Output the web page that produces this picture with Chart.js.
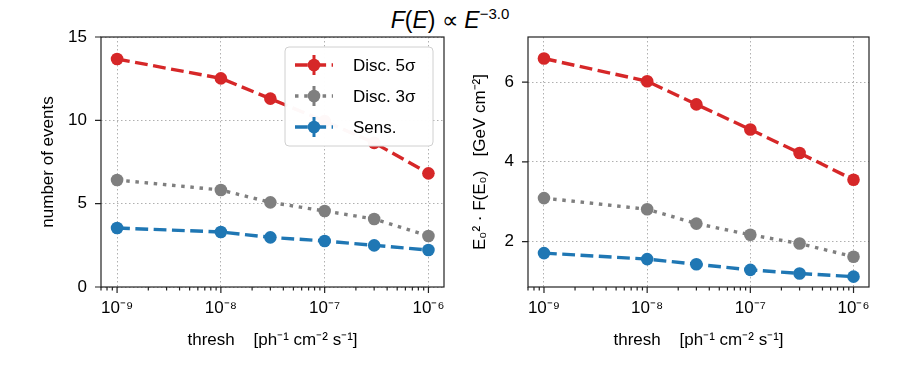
<!DOCTYPE html>
<html>
<head>
<meta charset="utf-8">
<script src="https://cdn.jsdelivr.net/npm/chart.js@4.4.1/dist/chart.umd.min.js"></script>
<style>
body { margin: 0; background: #fff; }
#fig { position: relative; width: 900px; height: 375px; font-family: "Liberation Sans", sans-serif; color: #000; }
#title { position: absolute; left: 0; top: 0px; width: 900px; text-align: center; font-size: 23px; line-height: 28px; }
#title sup { font-size: 15px; }
.panel { position: absolute; top: 0; height: 375px; }
</style>
</head>
<body>
<div id="fig">
    <div id="title"><i>F</i>(<i>E</i>) ∝ <i>E</i><sup>−3.0</sup></div>
    <div class="panel" style="left:0;width:460px"><canvas id="chartEvents" width="460" height="375"></canvas></div>
    <div class="panel" style="left:460px;width:440px"><canvas id="chartFlux" width="440" height="375"></canvas></div>
</div>
<script>
// valores
const thresholds = [1e-9, 1e-8, 3e-8, 1e-7, 3e-7, 1e-6];
const seriesLabels = ['Disc. 5σ', 'Disc. 3σ', 'Sens.'];

const eventsDisc5 = [13.68, 12.52, 11.30, 9.95, 8.65, 6.82];
const eventsDisc3 = [6.42, 5.82, 5.08, 4.56, 4.08, 3.06];
const eventsSens = [3.54, 3.30, 2.98, 2.76, 2.50, 2.22];

const fluxDisc5 = [6.59, 6.02, 5.44, 4.81, 4.22, 3.55];
const fluxDisc3 = [3.09, 2.81, 2.45, 2.17, 1.95, 1.62];
const fluxSens = [1.71, 1.56, 1.43, 1.29, 1.20, 1.12];

const xMajorTicks = [1e-9, 1e-8, 1e-7, 1e-6];
const xTickLabels = ['10⁻⁹', '10⁻⁸', '10⁻⁷', '10⁻⁶'];
const eventsTicks = [0, 5, 10, 15];
const fluxTicks = [2, 4, 6];

const FONT = '"Liberation Sans", sans-serif';
const styles = [
    { color: '#d62728', dash: [12.8, 5.5] },
    { color: '#7f7f7f', dash: [3.5, 5.7] },
    { color: '#1f77b4', dash: [12.8, 5.5] },
];

function isMajor(v) {
    const l = Math.log10(v);
    return Math.abs(l - Math.round(l)) < 1e-6;
}

function makeSets(lists) {
    return lists.map(function (vals, i) {
        return {
            label: seriesLabels[i],
            data: thresholds.map(function (t, j) { return { x: t, y: vals[j] }; }),
            borderColor: styles[i].color,
            backgroundColor: styles[i].color,
            borderWidth: 3.4,
            borderDash: styles[i].dash,
            borderCapStyle: 'butt',
            pointRadius: 6.3,
            pointHoverRadius: 6.3,
            pointBorderWidth: 0,
            pointBackgroundColor: styles[i].color,
            tension: 0,
        };
    });
}

function xScale() {
    return {
        type: 'logarithmic',
        min: Math.pow(10, -9.15),
        max: Math.pow(10, -5.85),
        afterBuildTicks: function (s) {
            const t = [];
            for (let d = -10; d <= -6; d++) {
                for (let m = 1; m <= 9; m++) {
                    const v = m * Math.pow(10, d);
                    if (v >= s.min && v <= s.max) t.push({ value: v });
                }
            }
            s.ticks = t;
        },
        afterFit: function (s) { s.height = 88; },
        ticks: {
            autoSkip: false, maxRotation: 0, padding: 11, color: '#000',
            font: { size: 17, family: FONT },
            callback: function (v) {
                const k = xMajorTicks.findIndex(function (m) { return Math.abs(m - v) / m < 1e-6; });
                return k >= 0 ? xTickLabels[k] : '';
            },
        },
        grid: {
            drawTicks: false, lineWidth: 1,
            color: function (c) { return c.tick && isMajor(c.tick.value) ? '#b0b0b0' : 'rgba(0,0,0,0)'; },
        },
        border: { display: false, dash: [1.5, 2.5] },
        title: {
            display: true, text: 'thresh    [ph⁻¹ cm⁻² s⁻¹]', color: '#000',
            font: { size: 17, family: FONT }, padding: { top: 0, bottom: 24 },
        },
    };
}

function yScale(min, max, ticks, width, label, titlePad) {
    return {
        type: 'linear', min: min, max: max,
        afterBuildTicks: function (s) { s.ticks = ticks.map(function (v) { return { value: v }; }); },
        afterFit: function (s) { s.width = width; },
        ticks: { padding: 14, color: '#000', font: { size: 17, family: FONT } },
        grid: { drawTicks: false, lineWidth: 1, color: '#b0b0b0' },
        border: { display: false, dash: [1.5, 2.5] },
        title: {
            display: true, text: label, color: '#000',
            font: { size: 17, family: FONT }, padding: { top: titlePad, bottom: 0 },
        },
    };
}

// marco completo y marcas de los ejes (hacia afuera)
const framePlugin = {
    id: 'frame',
    afterDraw: function (chart) {
        const ctx = chart.ctx, a = chart.chartArea;
        const xs = chart.scales.x, ys = chart.scales.y;
        ctx.save();
        ctx.strokeStyle = '#222';
        ctx.lineWidth = 1.2;
        ctx.strokeRect(a.left, a.top, a.right - a.left, a.bottom - a.top);
        ctx.beginPath();
        xs.ticks.forEach(function (t) {
            const p = xs.getPixelForValue(t.value);
            const len = isMajor(t.value) ? 6 : 3.5;
            ctx.moveTo(p, a.bottom);
            ctx.lineTo(p, a.bottom + len);
        });
        ys.ticks.forEach(function (t) {
            const p = ys.getPixelForValue(t.value);
            ctx.moveTo(a.left - 6, p);
            ctx.lineTo(a.left, p);
        });
        ctx.stroke();
        ctx.restore();
    },
};

// leyenda dentro del area, arriba a la derecha
const legendPlugin = {
    id: 'boxLegend',
    afterDatasetsDraw: function (chart) {
        const ctx = chart.ctx, a = chart.chartArea;
        const w = 148, h = 99;
        const x0 = a.right - 11 - w, y0 = a.top + 10;
        ctx.save();
        ctx.beginPath();
        ctx.roundRect(x0, y0, w, h, 4);
        ctx.fillStyle = 'rgba(255,255,255,0.97)';
        ctx.fill();
        ctx.strokeStyle = '#d0d0d0';
        ctx.lineWidth = 1;
        ctx.stroke();
        chart.data.datasets.forEach(function (ds, i) {
            const y = y0 + 18 + i * 31;
            const cx = x0 + 29;
            ctx.strokeStyle = ds.borderColor;
            ctx.lineWidth = 3.4;
            ctx.lineCap = 'butt';
            ctx.setLineDash(ds.borderDash);
            ctx.beginPath();
            ctx.moveTo(x0 + 10, y);
            ctx.lineTo(x0 + 48, y);
            ctx.stroke();
            ctx.setLineDash([]);
            ctx.lineWidth = 3;
            ctx.beginPath();
            ctx.moveTo(cx, y - 10);
            ctx.lineTo(cx, y + 10);
            ctx.stroke();
            ctx.fillStyle = ds.borderColor;
            ctx.beginPath();
            ctx.arc(cx, y, 6.3, 0, Math.PI * 2);
            ctx.fill();
            ctx.fillStyle = '#000';
            ctx.font = '17px ' + FONT;
            ctx.textBaseline = 'middle';
            ctx.fillText(ds.label, x0 + 68, y + 1);
        });
        ctx.restore();
    },
};

function build(id, sets, yOpts, padRight, extraPlugins) {
    return new Chart(document.getElementById(id), {
        type: 'line',
        data: { datasets: sets },
        options: {
            responsive: false,
            animation: false,
            layout: { padding: { top: 37, right: padRight, bottom: 0, left: 0 } },
            plugins: { legend: { display: false }, tooltip: { enabled: false }, title: { display: false } },
            scales: { x: xScale(), y: yOpts },
        },
        plugins: [framePlugin].concat(extraPlugins),
    });
}

build('chartEvents', makeSets([eventsDisc5, eventsDisc3, eventsSens]),
    yScale(0, 15, eventsTicks, 101, 'number of events', 38), 16, [legendPlugin]);

build('chartFlux', makeSets([fluxDisc5, fluxDisc3, fluxSens]),
    yScale(0.86, 7.13, fluxTicks, 68, 'E₀² · F(E₀)   [GeV cm⁻²]', 10), 31, []);
</script>
</body>
</html>
